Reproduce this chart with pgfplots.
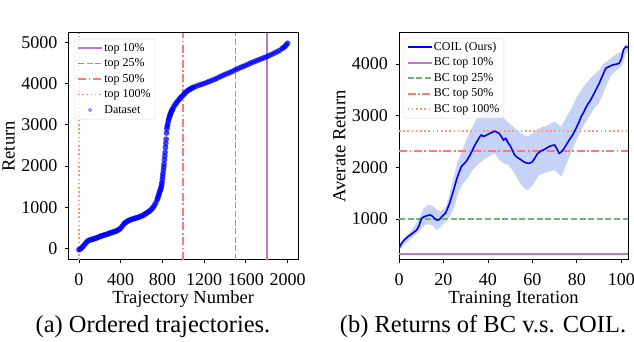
\documentclass[border=0pt]{standalone}
\usepackage{pgfplots}
\pgfplotsset{compat=1.18}
\usepackage{fontspec}
\setmainfont{Liberation Serif}
\definecolor{cpurple}{RGB}{190,120,200}
\definecolor{cgreen}{RGB}{110,185,110}
\definecolor{cred}{RGB}{255,120,120}
\definecolor{corange}{RGB}{255,150,120}
\definecolor{cband}{RGB}{65,105,225}
\newcommand{\lblfont}{\fontsize{18.5}{18.5}\selectfont}
\pgfplotsset{
  myax/.style={
    scale only axis, anchor=south west,
    axis line style={line width=1pt},
    tick align=outside, major tick length=3.5pt,
    tick style={line width=0.8pt, black},
    xtick pos=bottom, ytick pos=left,
    /pgf/number format/assume math mode=true,
    /pgf/number format/1000 sep={},
    tick label style={font=\fontsize{18}{18}\selectfont},
    xticklabel style={anchor=base, inner sep=0pt, yshift=-22pt},
    yticklabel style={anchor=east, inner sep=0pt, xshift=-7.5pt},
    every axis x label/.style={at={(axis description cs:0.5,-0.19)}, anchor=base, inner sep=0pt, font=\lblfont},
    every axis y label/.style={at={(axis description cs:-0.261,0.5)}, rotate=90, anchor=center, inner sep=0pt, font=\lblfont},
    legend style={anchor=north west, draw=black!15, rounded corners=2pt,
      fill=white, fill opacity=0.8, text opacity=1, draw opacity=1,
      font=\fontsize{12}{12}\selectfont, inner xsep=3pt, inner ysep=2pt,
      row sep=1.5pt, nodes={inner sep=1.5pt, text height=8.5pt, text depth=2.5pt}},
    legend cell align=left,
    legend image code/.code={\draw[#1] (0pt,0pt) -- (24pt,0pt);},
  }
}
\begin{document}
\begin{tikzpicture}
\useasboundingbox (0,0) rectangle (634pt,342pt);
% ---------------- left panel
\begin{axis}[myax, at={(68.5pt,82pt)}, width=229.5pt, height=227pt,
  xmin=-100, xmax=2100, ymin=-280, ymax=5225,
  xtick={0,400,...,2000}, ytick={0,1000,...,5000},
  xlabel={\lblfont Trajectory Number}, ylabel={\lblfont Return},
  legend style={at={(0.024,0.974)}}]
\addplot[cpurple, line width=1.7pt] coordinates {(1800,-280) (1800,5225)};
\addlegendentry{top 10\%}
\addplot[cgreen, line width=1.7pt, dash pattern=on 6pt off 2.6pt] coordinates {(1500,-280) (1500,5225)};
\addlegendentry{top 25\%}
\addplot[cred, line width=1.7pt, dash pattern=on 8pt off 2.6pt on 1.6pt off 2.6pt] coordinates {(1000,-280) (1000,5225)};
\addlegendentry{top 50\%}
\addplot[corange, line width=1.7pt, dash pattern=on 1.6pt off 2.6pt] coordinates {(0,-280) (0,5225)};
\addlegendentry{top 100\%}
\addplot[blue, only marks, mark=*, mark size=2.9pt, mark options={draw=blue, draw opacity=0, fill=blue, fill opacity=0.75},
  legend image code/.code={\fill[blue!50] (12pt,0pt) circle (1.9pt);}]
  coordinates {
(0,-30) (12,-15) (25,10) (37,45) (50,80) (62,120) (75,160) (87,185) (100,200) (112,212) (125,220) (137,230)
(150,240) (162,250) (175,260) (187,275) (200,290) (212,300) (225,310) (237,320) (250,330) (262,340) (275,350)
(287,362) (300,375) (312,385) (325,395) (337,405) (350,415) (362,428) (375,445) (387,465) (400,490) (412,530)
(425,575) (437,610) (450,635) (462,655) (475,675) (487,690) (500,700) (512,710) (525,720) (537,730) (550,740)
(562,750) (575,760) (587,772) (600,785) (612,800) (625,820) (637,840) (650,860) (662,880) (675,900) (687,930)
(700,960) (712,1000) (725,1050) (737,1110) (750,1185) (755,1220) (760,1260) (765,1300) (770,1340) (775,1380)
(780,1420) (785,1460) (790,1500) (793,1550) (796,1600) (800,1680) (803,1750) (806,1820) (810,1900) (813,1975)
(816,2050) (820,2150) (823,2240) (826,2330) (830,2450) (833,2550) (836,2650) (840,2800) (843,2900) (846,2960)
(850,3000) (855,3070) (860,3130) (865,3170) (870,3210) (875,3245) (880,3280) (885,3310) (890,3340) (895,3365)
(900,3390) (912,3450) (925,3500) (937,3540) (950,3580) (962,3620) (975,3655) (987,3690) (1000,3720) (1012,3755)
(1025,3790) (1037,3815) (1050,3840) (1062,3860) (1075,3875) (1087,3895) (1100,3910) (1125,3935) (1150,3960)
(1175,3980) (1200,4000) (1225,4025) (1250,4050) (1275,4075) (1300,4100) (1325,4130) (1350,4160) (1375,4190)
(1400,4220) (1425,4245) (1450,4270) (1475,4300) (1500,4330) (1525,4360) (1550,4390) (1575,4415) (1600,4440)
(1625,4470) (1650,4500) (1675,4525) (1700,4550) (1725,4575) (1750,4600) (1775,4625) (1800,4650) (1825,4680)
(1850,4710) (1875,4740) (1900,4770) (1925,4805) (1950,4850) (1962,4875) (1975,4900) (1987,4935) (2000,4975)
  };
\addlegendentry{Dataset}
\end{axis}
% ---------------- right panel
\begin{axis}[myax, at={(399pt,82pt)}, width=229pt, height=227pt,
  xmin=0, xmax=103, ymin=207, ymax=4600,
  xtick={0,20,...,100}, ytick={1000,2000,3000,4000},
  xlabel={\lblfont Training Iteration}, ylabel={\lblfont Averate Return},
  legend style={at={(0.02,0.978)}}]
\addplot[draw=none, fill=cband, fill opacity=0.3, forget plot] coordinates {
(0,470) (3,660) (6,800) (9,1000) (11,1200) (13,1270) (15,1260) (17,1180) (19,1141) (21,1250) (22,1370)
(24,1700) (26,2050) (28,2277) (30,2500) (32,2700) (35,2948) (38,3077) (42,3100) (45,3060) (48,2916)
(52,2755) (56,2626) (58,2594) (60,2658) (63,2755) (66,2800) (70,2884) (73,2786) (75,2948) (78,3174)
(80,3367) (83,3561) (86,3723) (90,3880) (92,4000) (95,4100) (98,4200) (100,4238) (102,4380) (103,4370)
(103,4250) (102,4200) (100,3947) (97,3850) (95,3754) (93,3550) (90,3245) (88,3150) (85,2950) (82,2722)
(79,2450) (76,2142) (73,1818) (70,1950) (66,1900) (63,1850) (60,1650) (58,1561) (57,1580) (55,1650)
(53,1800) (51,1948) (49,2050) (46,2100) (43,2270) (40,2200) (36,2080) (33,1950) (31,1800) (29,1700)
(27,1550) (25,1250) (23,1050) (21,950) (19,860) (17,787) (15,880) (12,900) (9,770) (6,640) (3,530) (0,400)
} -- cycle;
\addlegendimage{blue, line width=1.6pt}
\addlegendentry{COIL (Ours)}
\addplot[cpurple, line width=1.7pt] coordinates {(0,320) (103,320)};
\addlegendentry{BC top 10\%}
\addplot[cgreen, line width=1.7pt, dash pattern=on 6pt off 2.6pt] coordinates {(0,1000) (103,1000)};
\addlegendentry{BC top 25\%}
\addplot[cred, line width=1.7pt, dash pattern=on 8pt off 2.6pt on 1.6pt off 2.6pt] coordinates {(0,2315) (103,2315)};
\addlegendentry{BC top 50\%}
\addplot[corange, line width=1.7pt, dash pattern=on 1.6pt off 2.6pt] coordinates {(0,2703) (103,2703)};
\addlegendentry{BC top 100\%}
\addplot[blue, line width=1.6pt, forget plot] coordinates {
(0,432) (1,520) (2,580) (3,620) (4,658) (5,690) (6,722) (7,755) (8,790) (9,870) (10,1000) (11,1040)
(12,1055) (13,1070) (14,1080) (15,1055) (16,1010) (17,980) (18,985) (19,1032) (20,1075) (21,1120)
(22,1220) (23,1335) (24,1480) (25,1625) (26,1780) (27,1900) (28,2013) (29,2060) (30,2100) (31,2170)
(32,2240) (33,2330) (34,2420) (35,2496) (36,2570) (37,2626) (38,2600) (39,2615) (40,2640) (41,2660)
(42,2680) (43,2700) (44,2680) (45,2659) (46,2600) (47,2529) (48,2560) (49,2480) (50,2420) (51,2330)
(52,2239) (53,2200) (54,2170) (55,2142) (56,2110) (57,2090) (58,2077) (59,2085) (60,2109) (61,2170)
(62,2250) (63,2290) (64,2320) (65,2340) (66,2360) (67,2390) (68,2410) (69,2425) (70,2432) (71,2360)
(72,2271) (73,2300) (74,2350) (75,2420) (76,2490) (77,2560) (78,2620) (79,2700) (80,2790) (81,2880)
(82,2990) (83,3060) (84,3150) (85,3230) (86,3290) (87,3370) (88,3450) (89,3540) (90,3620) (91,3720)
(92,3820) (93,3916) (94,3940) (95,3960) (96,3980) (97,3990) (98,4000) (99,4013) (100,4100) (101,4280)
(102,4335) (103,4320)
};
\end{axis}
\node[anchor=base, font=\fontsize{24.5}{24.5}\selectfont, inner sep=0pt] at (153pt,9pt) {(a) Ordered trajectories.};
\node[anchor=base, font=\fontsize{24.5}{24.5}\selectfont, inner sep=0pt] at (483pt,9pt) {(b) Returns of BC v.s. COIL.};
\end{tikzpicture}
\end{document}
